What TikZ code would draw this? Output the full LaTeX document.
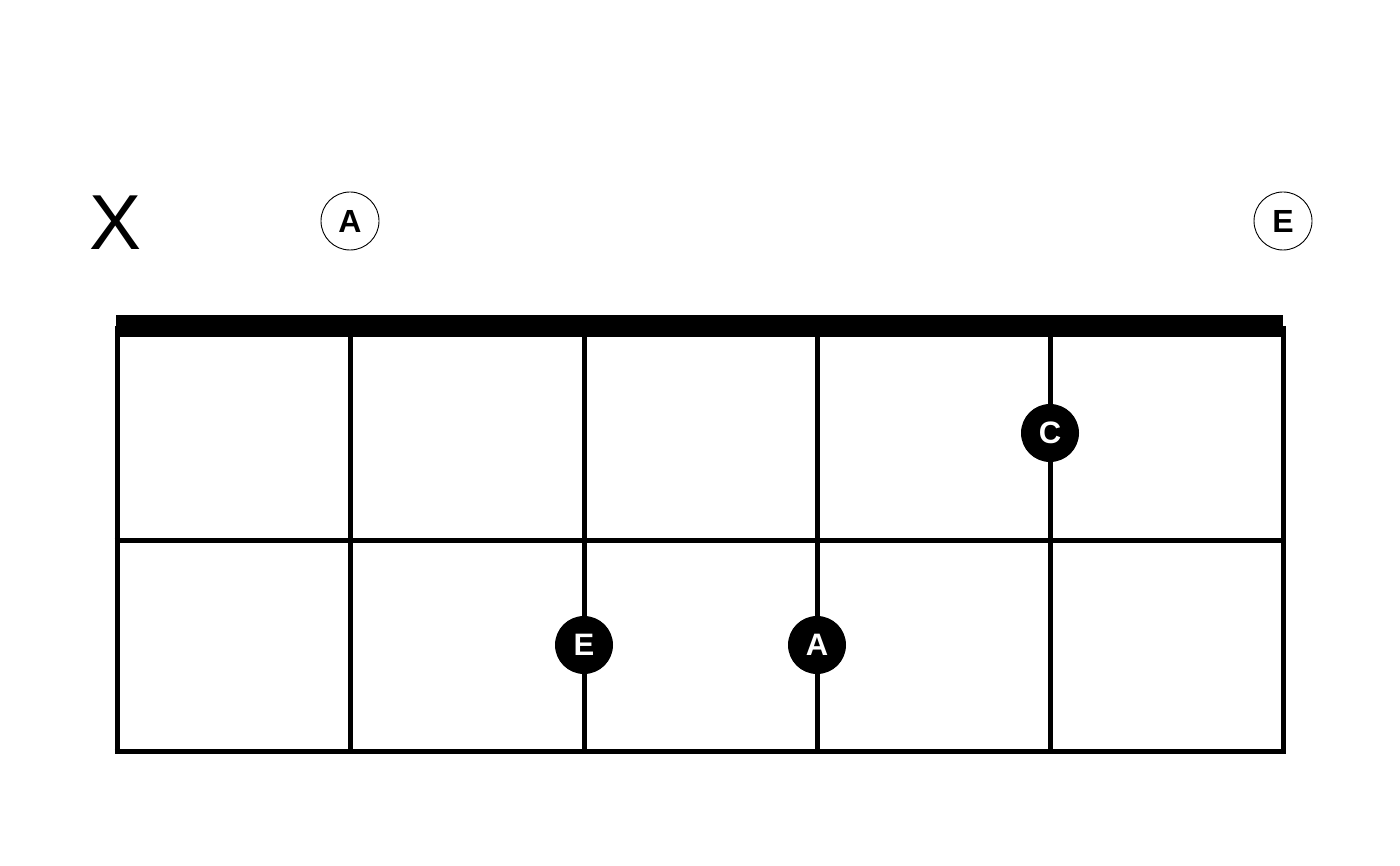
\documentclass[tikz,border=0pt]{standalone}
\usepackage{fontspec}
\setmainfont{Liberation Sans}
\begin{document}
\begin{tikzpicture}[x=1pt,y=-1pt,
  gridline/.style={line width=5pt},
  opennote/.style={circle,draw,line width=0.9pt,minimum size=58pt,inner sep=0pt,fill=white,font=\fontsize{32}{32}\selectfont\bfseries},
  fretnote/.style={circle,fill=black,minimum size=58pt,inner sep=0pt,text=white,font=\fontsize{31}{31}\selectfont\bfseries}]
\useasboundingbox (0,0) rectangle (1400,866);
% string coordinates
\foreach \i/\x in {1/117,2/350,3/584,4/817,5/1050,6/1283}{
  \coordinate (t\i) at (\x,326);
  \coordinate (b\i) at (\x,751.5);
}
\foreach \i in {1,...,6}{ \draw[gridline] (t\i) -- (b\i); }
% frets
\coordinate (m1) at (114.5,540);
\coordinate (m6) at (1285.5,540);
\coordinate (f1) at (114.5,751.5);
\coordinate (f6) at (1285.5,751.5);
\draw[gridline] (m1) -- (m6);
\draw[gridline] (f1) -- (f6);
% nut
\fill (116,315) rectangle (1283,337);
% markers above
\node[font=\fontsize{78}{78}\selectfont] (x1) at (116,223) {X};
\node[opennote] (o2) at (350,221) {A};
\node[opennote] (o6) at (1283,221) {E};
% fretted notes
\node[fretnote] (n5) at (1050,433) {C};
\node[fretnote] (n3) at (584,645) {E};
\node[fretnote] (n4) at (817,645) {A};
\end{tikzpicture}
\end{document}
